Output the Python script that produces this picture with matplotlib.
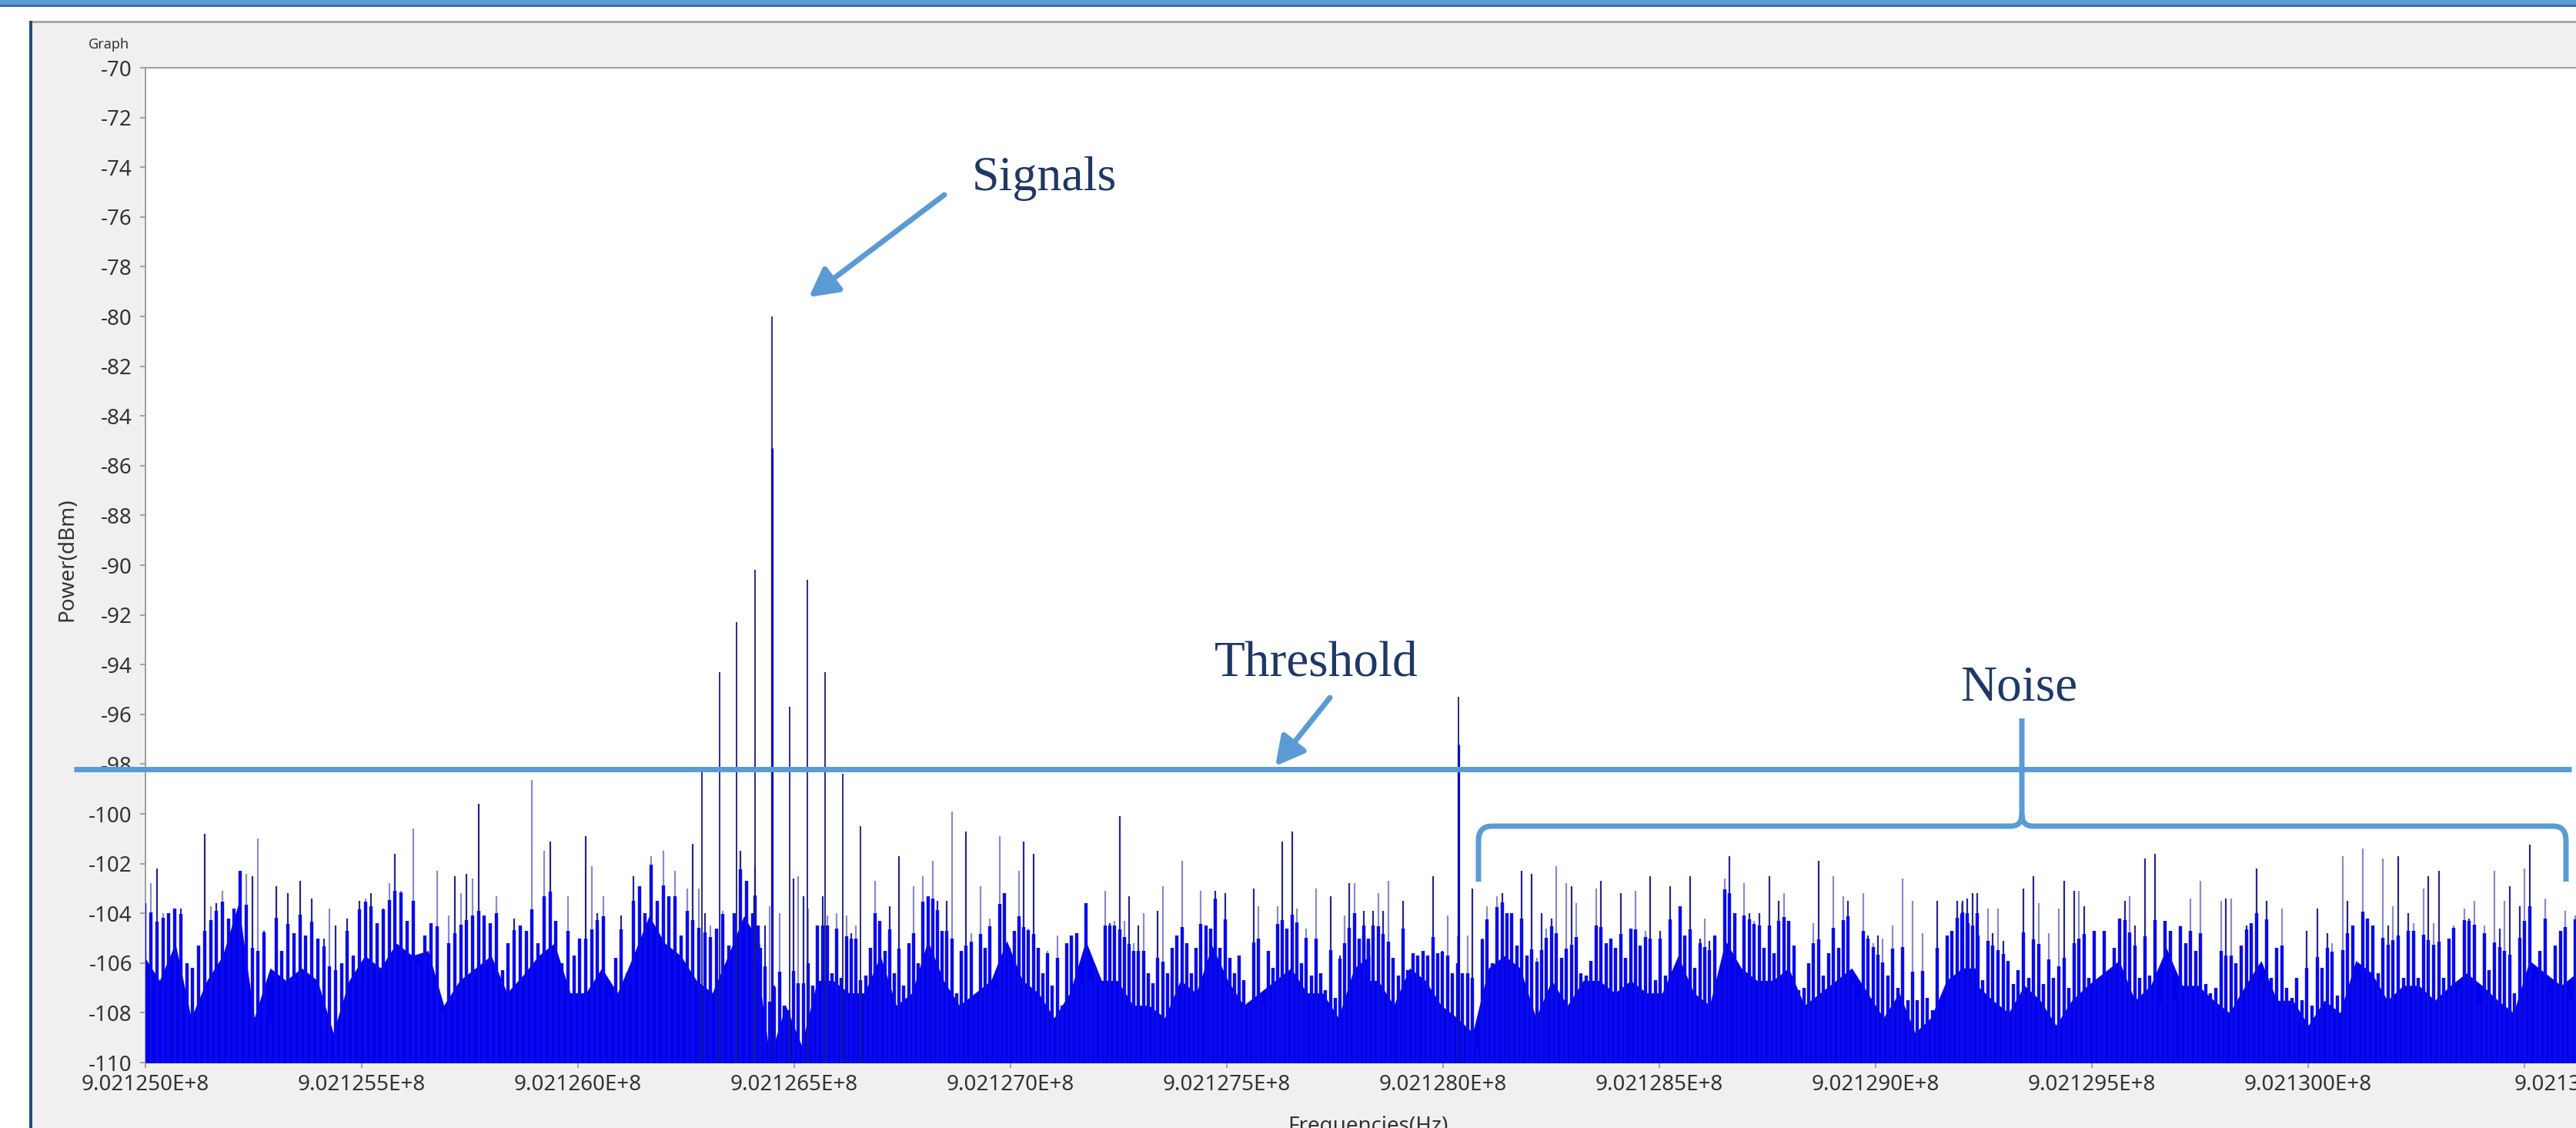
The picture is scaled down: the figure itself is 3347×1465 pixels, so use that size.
import numpy as np
import matplotlib
matplotlib.use("Agg")
import matplotlib.pyplot as plt
from matplotlib.patches import Rectangle, PathPatch, FancyArrowPatch
from matplotlib.path import Path
from matplotlib.lines import Line2D
from matplotlib.transforms import Affine2D, ScaledTranslation
from matplotlib.ticker import FixedLocator, FixedFormatter

# ---------------- data ----------------
F0_HZ = 902125000.0
F_END_HZ = 902130621.0
Y_MIN, Y_MAX = -110, -70
THRESHOLD_DBM = -98.2

x_tick_hz = [902125000, 902125500, 902126000, 902126500, 902127000, 902127500,
             902128000, 902128500, 902129000, 902129500, 902130000, 902130500]
x_tick_labels = ["9.021250E+8", "9.021255E+8", "9.021260E+8", "9.021265E+8",
                 "9.021270E+8", "9.021275E+8", "9.021280E+8", "9.021285E+8",
                 "9.021290E+8", "9.021295E+8", "9.021300E+8", "9.021305E+8"]
y_ticks = list(range(-110, -69, 2))
y_tick_labels = [str(v) for v in y_ticks]

# strong signal lines
signal_freq_hz = [902126286, 902126327, 902126367, 902126409, 902126448, 902126489,
                  902126531, 902126571, 902126612, 902126653, 902128036]
signal_dbm = [-98.3, -94.3, -92.3, -90.2, -80.0, -95.7, -90.6, -94.3, -98.4, -100.5, -95.3]
signal_core_dbm = [-110, -110, -110, -110, -85.3, -110, -110, -110, -110, -110, -97.2]

# noise spectrum, read strip by strip
noise_strip_span_hz = [(902124996, 902126420), (902126407, 902127831),
                       (902127813, 902129237), (902129198, 902130621)]

noise_peak_strip1 = [
    -103.5, -102.8, -102.2, -104.0, -104.0, -103.8, -103.8, -106.0, -106.2, -105.3,
    -100.8, -103.7, -103.6, -103.1, -104.2, -103.8, -102.3, -102.4, -102.5, -101.0,
    -104.7, -108.4, -102.9, -105.5, -103.2, -104.8, -102.7, -104.9, -103.4, -105.0,
    -105.0, -103.8, -104.5, -106.0, -104.2, -105.7, -103.5, -103.4, -103.2, -104.4,
    -103.8, -102.8, -101.6, -103.1, -104.3, -100.6, -106.0, -104.9, -104.4, -102.3,
    -108.0, -104.1, -102.5, -103.2, -102.4, -102.6, -99.6, -104.1, -104.4, -103.3,
    -106.3, -105.2, -104.2, -104.5, -104.7, -98.65, -105.2, -101.5, -101.1, -104.3,
    -106.0, -103.3, -105.7, -105.0, -100.9, -102.1, -104.0, -103.3, -107.4, -105.8,
    -104.1, -106.4, -102.5, -102.9, -104.0, -101.7, -103.5, -101.5, -103.3, -102.3,
    -104.9, -103.0, -101.2, -103.0, -104.0, -104.5, -104.6, -103.9, -105.3, -104.0,
    -101.5, -102.7, -104.0, -104.5]
noise_peak_strip2 = [
    -102.1, -105.4, -104.5, -103.7, -106.9, -104.0, -107.7, -107.9, -102.6, -102.5,
    -103.3, -103.8, -106.9, -104.5, -103.3, -104.1, -106.4, -104.0, -106.6, -104.1,
    -104.8, -104.5, -106.7, -106.5, -105.4, -102.7, -104.3, -105.5, -103.7, -106.4,
    -101.7, -106.9, -105.2, -102.9, -106.0, -102.5, -103.3, -101.9, -103.5, -104.7,
    -103.5, -99.9, -107.2, -105.5, -100.7, -104.8, -107.3, -102.9, -105.4, -104.2,
    -107.0, -100.9, -103.2, -105.4, -104.7, -102.3, -101.1, -104.6, -101.6, -105.4,
    -106.4, -105.5, -106.9, -104.9, -107.7, -105.2, -104.9, -104.8, -106.8, -103.6,
    -106.7, -106.2, -106.8, -103.1, -104.4, -104.3, -100.1, -104.3, -103.3, -105.2,
    -104.5, -104.0, -106.4, -106.8, -103.9, -102.9, -106.4, -105.4, -104.9, -101.9,
    -105.2, -106.4, -105.4, -103.1, -104.5, -104.6, -103.1, -105.4, -103.2, -105.8,
    -106.4, -105.7, -106.7, -107.6, -103.0, -103.7, -107.7, -105.5, -106.2, -103.7,
    -101.1, -104.6, -100.7, -103.8, -106.0, -104.6, -106.5, -103.0, -106.4, -107.1,
    -103.3, -107.4, -105.7, -104.1, -102.8, -102.8, -105.0, -104.9, -105.2]
noise_peak_strip3 = [
    -103.9, -105.0, -103.9, -103.2, -103.9, -102.7, -105.8, -106.5, -103.5, -106.3,
    -105.6, -105.7, -105.5, -105.7, -102.5, -105.6, -105.5, -104.1, -106.4, -104.9,
    -106.4, -104.9, -103.0, -109.4, -105.0, -103.7, -106.0, -103.3, -103.2, -104.0,
    -104.0, -105.3, -102.3, -105.7, -102.4, -105.8, -104.0, -104.6, -104.2, -102.1,
    -105.8, -102.8, -102.9, -103.6, -106.4, -106.5, -105.9, -103.0, -102.7, -105.2,
    -105.0, -105.4, -103.2, -105.8, -104.6, -103.1, -105.3, -104.7, -102.5, -106.7,
    -104.7, -106.5, -102.9, -106.4, -103.7, -104.9, -102.5, -106.2, -105.0, -104.2,
    -105.1, -104.9, -106.5, -102.6, -101.7, -104.0, -106.5, -102.8, -104.0, -104.3,
    -104.0, -105.4, -102.5, -105.6, -103.5, -103.2, -104.3, -105.3, -107.1, -107.0,
    -106.0, -104.4, -101.9, -106.5, -105.6, -102.5, -105.4, -103.3, -103.5, -106.8,
    -107.4, -103.2, -104.9, -105.2, -104.9, -105.0, -106.5, -104.5, -107.0, -102.6,
    -107.5, -103.5, -107.5, -104.8, -107.4, -107.9, -103.5, -107.8, -104.9, -104.7,
    -103.5, -103.6, -103.4, -107.0, -103.2]
noise_peak_strip4 = [
    -103.5, -104.4, -103.2, -104.9, -106.7, -103.8, -104.8, -103.8, -105.1, -105.9,
    -106.85, -106.3, -103.0, -106.6, -102.5, -103.6, -106.85, -104.8, -106.6, -103.8,
    -102.7, -107.0, -103.1, -103.1, -103.7, -106.6, -104.7, -106.6, -104.7, -106.5,
    -105.4, -104.2, -103.5, -103.3, -104.5, -106.6, -101.8, -106.5, -101.6, -107.6,
    -104.3, -104.7, -107.5, -104.5, -105.2, -103.4, -105.5, -102.7, -106.85, -107.2,
    -107.0, -103.5, -103.4, -103.4, -106.0, -105.3, -104.5, -104.4, -102.2, -106.7,
    -103.5, -106.6, -105.4, -103.8, -107.0, -107.4, -106.6, -107.5, -104.7, -107.7,
    -103.8, -106.2, -104.8, -105.2, -107.3, -101.7, -103.5, -104.5, -106.6, -101.4,
    -104.2, -104.5, -106.4, -101.8, -104.5, -103.7, -101.7, -106.6, -104.0, -104.4,
    -106.6, -103.0, -102.5, -104.4, -102.3, -106.6, -105.0, -104.5, -107.0, -103.8,
    -104.2, -103.5, -107.7, -104.5, -106.3, -102.3, -104.6, -103.5, -102.9, -107.2,
    -103.7, -102.2, -101.25, -106.6, -105.5, -103.4, -107.2, -105.3, -104.7, -103.9,
    -107.5, -104.1]

# top of the dense (solid) part of the noise, same strips
noise_body_strip1 = [
    -105.4, -106.4, -104.9, -107.9, -106.4, -105.4, -103.3, -107.9, -105.9, -106.4,
    -105.9, -106.4, -108.5, -106.4, -105.4, -105.9, -104.9, -105.4, -105.2, -107.4,
    -106.4, -105.9, -105.4, -106.9, -106.2, -105.4, -104.9, -106.9, -106.9, -105.9,
    -106.9, -105.4, -103.8, -104.9, -105.4, -106.4, -106.9, -105.4, -103.8, -104.9]
noise_body_strip2 = [
    -104.8, -109.5, -107.4, -109.0, -106.4, -106.4, -106.9, -106.9, -105.4, -107.4,
    -106.9, -104.8, -106.4, -107.4, -106.9, -106.4, -104.8, -106.4, -106.9, -107.9,
    -106.9, -104.8, -106.4, -106.4, -107.4, -107.4, -107.9, -106.4, -106.9, -105.0,
    -106.4, -107.4, -106.9, -106.4, -105.9, -106.9, -106.9, -107.9, -105.9, -105.4]
noise_body_strip3 = [
    -106.4, -106.4, -107.4, -105.9, -106.4, -107.4, -107.9, -108.5, -105.9, -105.4,
    -105.9, -107.9, -106.4, -107.4, -106.4, -106.4, -106.9, -106.4, -106.9, -106.9,
    -105.4, -106.9, -107.4, -104.8, -105.9, -106.4, -106.4, -105.9, -107.4, -106.9,
    -106.4, -105.9, -106.9, -107.9, -106.9, -108.5, -107.9, -106.4, -105.9, -105.9]
noise_body_strip4 = [
    -105.8, -106.6, -107.2, -107.7, -106.6, -107.2, -108.2, -107.2, -106.6, -106.1,
    -105.6, -107.2, -106.6, -105.1, -106.6, -106.6, -107.2, -107.7, -106.6, -105.6,
    -107.2, -107.2, -108.2, -107.2, -107.7, -105.6, -106.1, -107.2, -106.6, -106.6,
    -107.2, -106.6, -106.1, -106.6, -107.2, -107.7, -105.6, -106.1, -106.6, -106.1]

noise_peaks = [noise_peak_strip1, noise_peak_strip2, noise_peak_strip3, noise_peak_strip4]
noise_bodies = [noise_body_strip1, noise_body_strip2, noise_body_strip3, noise_body_strip4]

# ---------------- figure ----------------
W, H = 3348, 1465
DPI = 100
PANEL = "#F0F0F0"
ACCENT = "#5B9BD5"
NAVY_TXT = "#1F3864"
TICK_TXT = "#333333"

plt.rcParams["axes.unicode_minus"] = False
plt.rcParams["font.family"] = ["Noto Sans", "DejaVu Sans"]

fig = plt.figure(figsize=(W / DPI, H / DPI), dpi=DPI, facecolor=PANEL)
pix = Affine2D().scale(1, -1).translate(0, H)   # pixel coords, origin top-left


def px(v):
    return v * 72.0 / DPI   # pixels -> points


# window chrome
fig.add_artist(Rectangle((0, 0), 38, H, transform=pix, facecolor="white", edgecolor="none", zorder=0))
fig.add_artist(Rectangle((0, 8), W, 19, transform=pix, facecolor="white", edgecolor="none", zorder=0))
fig.add_artist(Rectangle((0, 0), W, 7, transform=pix, facecolor=ACCENT, edgecolor="none", zorder=1))
fig.add_artist(Rectangle((0, 6), W, 2.5, transform=pix, facecolor="#3C6E9E", edgecolor="none", zorder=1))
fig.add_artist(Rectangle((38, 27), 4, H - 27, transform=pix, facecolor="#1F4E79", edgecolor="none", zorder=1))
fig.add_artist(Rectangle((42, 27), W - 42, 2.5, transform=pix, facecolor="#A8A8A8", edgecolor="none", zorder=1))

fig.text(115, 63, "Graph", transform=pix, fontsize=13, color=TICK_TXT, va="baseline", ha="left")

# plot area
ax_left, ax_top, ax_bottom = 189, 88, 1380
ax = fig.add_axes([ax_left / W, (H - ax_bottom) / H, (W - ax_left) / W, (ax_bottom - ax_top) / H])
ax.set_facecolor("white")
ax.set_xlim(F0_HZ, F_END_HZ)
ax.set_ylim(Y_MIN, Y_MAX)

for k, (a, b) in enumerate(noise_strip_span_hz):
    pk = np.array(noise_peaks[k])
    fr = np.linspace(a + 3, b - 3, len(pk))
    bd = np.array(noise_bodies[k])
    fb = np.linspace(a, b, len(bd))
    body_at = np.interp(fr, fb, bd)
    # thin spike tips
    cols = ["#26268E" if i % 2 == 0 else "#8A8AC8" for i in range(len(pk))]
    ax.vlines(fr, Y_MIN - 1, pk, colors=cols, linewidth=px(2.2), zorder=2)
    # solid lower mass
    ax.fill_between(fb, Y_MIN - 1, bd - 0.3, color="#0000EE", linewidth=0, zorder=3)
    # ragged upper part of the mass
    ax.vlines(fr, Y_MIN - 1, np.minimum(pk, body_at + 1.9),
              colors="#0A0AEA", linewidth=px(4.4), zorder=3)

ax.vlines(signal_freq_hz, Y_MIN - 1, signal_dbm, colors="#1C1C78", linewidth=px(1.8), zorder=4)
ax.vlines(signal_freq_hz, Y_MIN - 1, signal_core_dbm, colors="#0A0AC0", linewidth=px(3.2), zorder=4)

ax.xaxis.set_major_locator(FixedLocator(x_tick_hz))
ax.xaxis.set_major_formatter(FixedFormatter(x_tick_labels))
ax.yaxis.set_major_locator(FixedLocator(y_ticks))
ax.yaxis.set_major_formatter(FixedFormatter(y_tick_labels))
ax.tick_params(axis="both", direction="out", length=px(7), width=px(1.5), color="#8A8A8A",
               labelsize=20, labelcolor=TICK_TXT)
ax.tick_params(axis="y", pad=px(10))
ax.tick_params(axis="x", pad=px(8))
for s in ["left", "top", "bottom"]:
    ax.spines[s].set_color("#A0A0A0")
    ax.spines[s].set_linewidth(px(2))
ax.spines["right"].set_visible(False)

# last x label sits just left of its tick and runs off the window edge, as in the source
last_lab = ax.xaxis.get_major_ticks()[-1].label1
last_lab.set_horizontalalignment("left")
last_lab.set_transform(last_lab.get_transform() + ScaledTranslation(-13 / DPI, 0, fig.dpi_scale_trans))

fig.text(87, 727, "Power(dBm)", transform=pix, rotation=90, fontsize=20, color=TICK_TXT,
         ha="center", va="center")
fig.text(1777, 1449, "Frequencies(Hz)", transform=pix, fontsize=20, color=TICK_TXT,
         ha="center", va="top")

# ---------------- annotations ----------------
SERIF = ["Liberation Serif", "DejaVu Serif"]
fig.text(1263, 247, "Signals", transform=pix, fontsize=46, family=SERIF, color=NAVY_TXT,
         va="baseline", ha="left")
fig.text(1578, 878, "Threshold", transform=pix, fontsize=47, family=SERIF, color=NAVY_TXT,
         va="baseline", ha="left")
fig.text(2547, 910, "Noise", transform=pix, fontsize=47, family=SERIF, color=NAVY_TXT,
         va="baseline", ha="left")

# threshold line (drawn at the threshold level on the figure)
thr_y = ax_top + (Y_MAX - THRESHOLD_DBM) / (Y_MAX - Y_MIN) * (ax_bottom - ax_top)
fig.add_artist(Line2D([96, 3341], [thr_y, thr_y], transform=pix, color=ACCENT,
                      linewidth=px(7), solid_capstyle="butt", zorder=10))

arrow_style = "-|>,head_length=0.75,head_width=0.4"
fig.add_artist(FancyArrowPatch((1227, 253), (1051, 386), transform=pix, arrowstyle=arrow_style,
                               mutation_scale=30, linewidth=px(7), color=ACCENT,
                               shrinkA=0, shrinkB=0, zorder=10))
fig.add_artist(FancyArrowPatch((1728, 906), (1657, 995), transform=pix, arrowstyle=arrow_style,
                               mutation_scale=30, linewidth=px(7), color=ACCENT,
                               shrinkA=0, shrinkB=0, zorder=10))

# brace over the noise region
brace_verts = [(1921, 1145), (1921, 1092), (1921, 1073), (1938, 1073), (2612, 1073),
               (2627, 1073), (2627, 1058), (2627, 933),
               (2627, 1058), (2627, 1073), (2642, 1073), (3318, 1073), (3334, 1073),
               (3334, 1092), (3334, 1145)]
brace_codes = [Path.MOVETO, Path.LINETO, Path.CURVE3, Path.CURVE3, Path.LINETO,
               Path.CURVE3, Path.CURVE3, Path.LINETO,
               Path.MOVETO, Path.CURVE3, Path.CURVE3, Path.LINETO, Path.CURVE3,
               Path.CURVE3, Path.LINETO]
fig.add_artist(PathPatch(Path(brace_verts, brace_codes), transform=pix, facecolor="none",
                         edgecolor=ACCENT, linewidth=px(7), capstyle="butt", zorder=10))

fig.savefig("out.png", dpi=DPI, facecolor=PANEL)
